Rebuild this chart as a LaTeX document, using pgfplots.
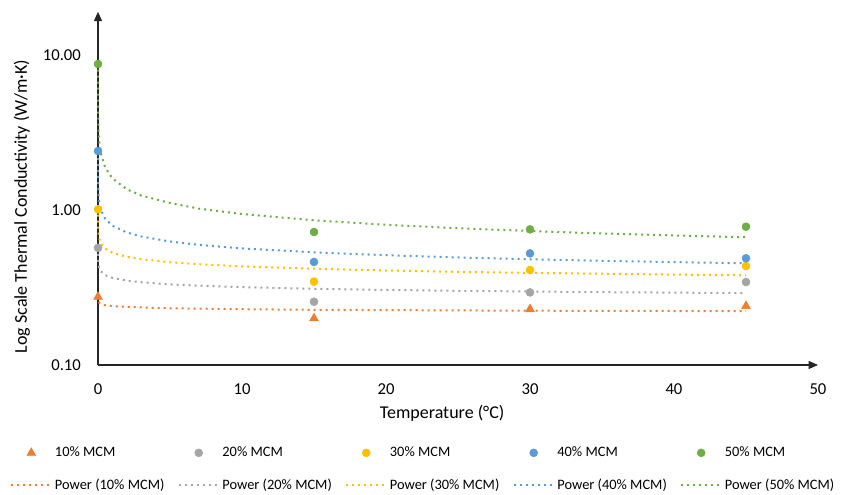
\documentclass[border=0pt]{standalone}
\usepackage{fontspec}
\setmainfont{Carlito}
\usepackage{pgfplots}
\usepackage{pgfplotstable}
\pgfplotsset{compat=1.18}
\usetikzlibrary{arrows.meta}

\definecolor{c10}{HTML}{ED7D31}
\definecolor{c20}{HTML}{A5A5A5}
\definecolor{c30}{HTML}{FFC000}
\definecolor{c40}{HTML}{5B9BD5}
\definecolor{c50}{HTML}{70AD47}

% measured conductivity (W/m K) at each temperature
\pgfplotstableread{
x   m10   m20   m30   m40   m50
0   0.275 0.57  1.01  2.40  8.75
15  0.200 0.256 0.345 0.462 0.721
30  0.229 0.294 0.410 0.525 0.750
45  0.240 0.343 0.435 0.488 0.780
}\measured

% power-law trend lines
\pgfplotstableread{
x      p10    p20   p30   p40   p50
0.0006 0.278  0.570 1.02  2.36  8.81
0.001  0.276  0.553 0.973 2.19  7.84
0.002  0.272  0.530 0.916 1.98  6.68
0.005  0.267  0.502 0.845 1.73  5.41
0.01   0.263  0.481 0.795 1.56  4.61
0.02   0.259  0.462 0.748 1.41  3.93
0.05   0.255  0.437 0.690 1.23  3.19
0.1    0.251  0.419 0.649 1.11  2.72
0.2    0.248  0.402 0.611 1.00  2.32
0.5    0.243  0.380 0.563 0.878 1.88
1      0.240  0.365 0.530 0.793 1.60
2      0.237  0.350 0.499 0.716 1.36
3      0.235  0.342 0.481 0.675 1.24
5      0.232  0.331 0.460 0.626 1.11
7      0.231  0.325 0.447 0.596 1.02
10     0.229  0.318 0.433 0.565 0.942
15     0.227  0.310 0.418 0.533 0.858
20     0.226  0.305 0.407 0.511 0.803
25     0.225  0.301 0.399 0.494 0.763
30     0.224  0.298 0.393 0.481 0.732
35     0.2235 0.295 0.388 0.470 0.706
40     0.223  0.293 0.383 0.461 0.685
45     0.2225 0.291 0.379 0.453 0.667
}\trend

\pgfplotsset{
  markleg/.style={legend image code/.code={%
    \path (0pt,0pt) (30pt,0pt);
    \draw[mark repeat=2,mark phase=2,##1] plot coordinates {(0pt,0pt) (15pt,0pt) (30pt,0pt)};}},
  lineleg/.style={legend image code/.code={%
    \draw[##1] (0pt,0pt) -- (30pt,0pt);}},
  trendline/.style={lineleg, line width=1.5pt, dash pattern=on 1.5pt off 3pt, on layer=pre main},
}

\begin{document}
\begin{tikzpicture}
\begin{axis}[
  at={(0,0)}, anchor=south west,
  scale only axis, width=540pt, height=264.9pt,
  set layers, clip=false,
  xmin=0, xmax=50, ymin=0.1, ymax=19,
  ymode=log,
  axis lines*=left,
  axis line style={line width=0.9pt, black!85, -{Triangle[length=7pt,width=6pt]}},
  tick style={draw=none},
  xtick={0,10,20,30,40,50}, xticklabels={0,10,20,30,40,50},
  ytick={0.1,1,10}, yticklabels={0.10,1.00,10.00},
  tick label style={font=\fontsize{12.5}{15}\selectfont},
  yticklabel style={xshift=-9.3pt},
  xticklabel style={yshift=-10.6pt},
  xlabel={Temperature (°C)},
  ylabel={Log Scale Thermal Conductivity (W/m·K)},
  label style={font=\fontsize{13.5}{16}\selectfont},
  xlabel style={at={(axis description cs:0.478,-0.1359)}, anchor=center},
  ylabel style={at={(axis description cs:-0.1056,0.449)}, anchor=center},
  legend columns=5,
  legend cell align=left,
  legend style={at={(axis description cs:-0.1222,-0.2237)}, anchor=north west,
    draw=none, fill=none, inner sep=0pt, row sep=11pt,
    font=\fontsize{10.8}{13}\selectfont,
    /tikz/every even column/.append style={column sep=8pt}},
]
\addplot[markleg, only marks, mark=triangle*, mark size=3.8pt, color=c10] table[x=x,y=m10] {\measured};
\addlegendentry{10\% MCM}
\addplot[markleg, only marks, mark=*, mark size=3pt, color=c20] table[x=x,y=m20] {\measured};
\addlegendentry{20\% MCM}
\addplot[markleg, only marks, mark=*, mark size=3pt, color=c30] table[x=x,y=m30] {\measured};
\addlegendentry{30\% MCM}
\addplot[markleg, only marks, mark=*, mark size=3pt, color=c40] table[x=x,y=m40] {\measured};
\addlegendentry{40\% MCM}
\addplot[markleg, only marks, mark=*, mark size=3pt, color=c50] table[x=x,y=m50] {\measured};
\addlegendentry{50\% MCM}

\addplot[trendline, no marks, color=c10] table[x=x,y=p10] {\trend};
\addlegendentry{Power (10\% MCM)}
\addplot[trendline, no marks, color=c20] table[x=x,y=p20] {\trend};
\addlegendentry{Power (20\% MCM)}
\addplot[trendline, no marks, color=c30] table[x=x,y=p30] {\trend};
\addlegendentry{Power (30\% MCM)}
\addplot[trendline, no marks, color=c40] table[x=x,y=p40] {\trend};
\addlegendentry{Power (40\% MCM)}
\addplot[trendline, no marks, color=c50] table[x=x,y=p50] {\trend};
\addlegendentry{Power (50\% MCM)}
\end{axis}
\pgfresetboundingbox
\path (-73.5pt,-97.5pt) rectangle (558.75pt,273.75pt);
\end{tikzpicture}
\end{document}
